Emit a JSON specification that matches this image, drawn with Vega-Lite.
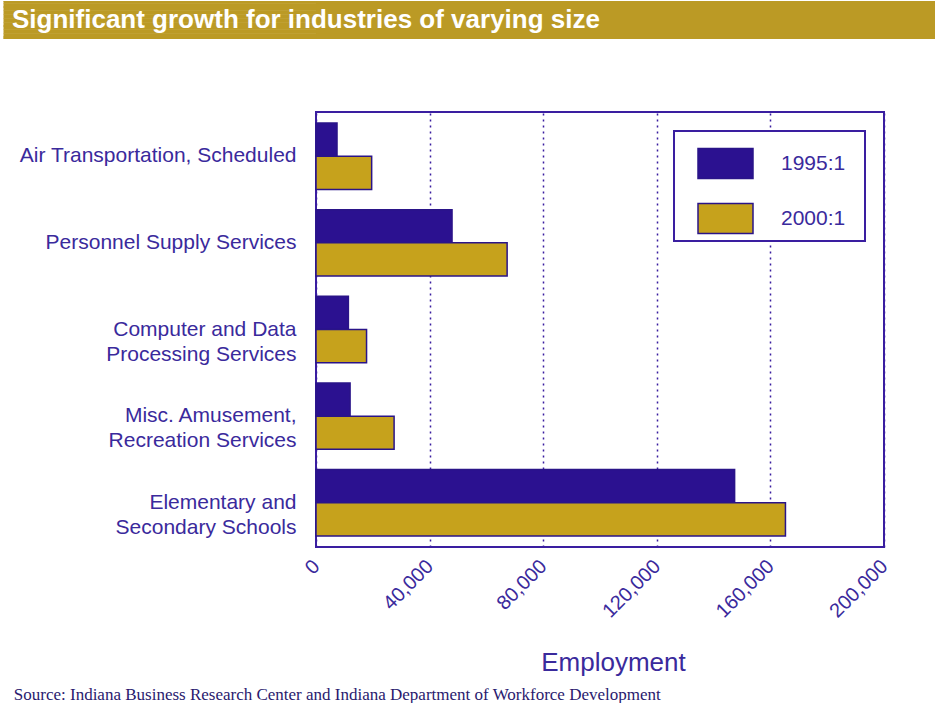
{
  "$schema": "https://vega.github.io/schema/vega-lite/v6.json",
  "background": "white",
  "padding": 0,
  "config": {"legend": {"strokeWidth": 2}},
  "title": {
    "text": "Source: Indiana Business Research Center and Indiana Department of Workforce Development",
    "orient": "bottom",
    "anchor": "start",
    "frame": "bounds",
    "dx": 13,
    "offset": 24,
    "baseline": "alphabetic",
    "font": "Liberation Serif",
    "fontSize": 17,
    "fontWeight": "normal",
    "color": "#2a1a6e"
  },
  "spacing": 72,
  "resolve": {"legend": {"color": "independent"}},
  "vconcat": [
    {
      "width": 621,
      "height": 38,
      "view": {"fill": "#bb9a25", "stroke": null},
      "title": {
        "text": "Significant growth for industries of varying size",
        "orient": "top",
        "anchor": "start",
        "frame": "group",
        "offset": -53,
        "dx": -304,
        "baseline": "alphabetic",
        "font": "Liberation Sans",
        "fontSize": 26,
        "fontWeight": "bold",
        "color": "white"
      },
      "data": {"values": [{"t": "", "v": 0.5}]},
      "mark": {"type": "text"},
      "encoding": {
        "text": {"field": "t"},
        "y": {
          "field": "v",
          "type": "quantitative",
          "scale": {"domain": [0, 1], "nice": false},
          "axis": {
            "title": null,
            "values": [0.99737, 0.96053, 0.90789, 0.80789, 0.70789, 0.60789, 0.50789, 0.40789, 0.30789, 0.20789, 0.10789, 0.06053, 0.02895],
            "labels": false,
            "domain": false,
            "grid": false,
            "ticks": true,
            "tickSize": 313,
            "tickWidth": {
              "condition": [
                {"test": "datum.value > 0.99 || datum.value < 0.05", "value": 1},
                {"test": "datum.value > 0.95 || datum.value < 0.07", "value": 2.4}
              ],
              "value": 4.4
            },
            "tickColor": "#bb9a25",
            "tickCap": "butt"
          }
        }
      }
    },
    {
      "width": 568,
      "height": 435,
      "view": {"stroke": "#3a1ea0", "strokeWidth": 2, "fill": "white"},
      "data": {
        "values": [
          {"industry": "Air Transportation, Scheduled", "year": "1995:1", "employment": 7400},
          {"industry": "Air Transportation, Scheduled", "year": "2000:1", "employment": 19600},
          {"industry": "Personnel Supply Services", "year": "1995:1", "employment": 47900},
          {"industry": "Personnel Supply Services", "year": "2000:1", "employment": 67300},
          {"industry": "Computer and Data|Processing Services", "year": "1995:1", "employment": 11400},
          {"industry": "Computer and Data|Processing Services", "year": "2000:1", "employment": 17800},
          {"industry": "Misc. Amusement,|Recreation Services", "year": "1995:1", "employment": 12000},
          {"industry": "Misc. Amusement,|Recreation Services", "year": "2000:1", "employment": 27500},
          {"industry": "Elementary and|Secondary Schools", "year": "1995:1", "employment": 147400},
          {"industry": "Elementary and|Secondary Schools", "year": "2000:1", "employment": 165300}
        ]
      },
      "mark": {"type": "bar", "stroke": "#2a1488", "strokeWidth": 1.5},
      "encoding": {
        "y": {
          "field": "industry",
          "type": "nominal",
          "sort": [
            "Air Transportation, Scheduled",
            "Personnel Supply Services",
            "Computer and Data|Processing Services",
            "Misc. Amusement,|Recreation Services",
            "Elementary and|Secondary Schools"
          ],
          "scale": {"paddingInner": 0.233, "paddingOuter": 0.127},
          "axis": {
            "title": null,
            "domain": false,
            "ticks": false,
            "labelPadding": 20,
            "minExtent": 314,
            "labelLimit": 400,
            "labelFont": "Liberation Sans",
            "labelFontSize": 21,
            "labelColor": "#3a2a9c",
            "labelLineHeight": 25,
            "labelExpr": "split(datum.value, '|')"
          }
        },
        "yOffset": {
          "field": "year",
          "type": "nominal",
          "sort": ["1995:1", "2000:1"],
          "scale": {"paddingInner": 0, "paddingOuter": 0}
        },
        "x": {
          "field": "employment",
          "type": "quantitative",
          "scale": {"domain": [0, 200000], "nice": false},
          "axis": {
            "title": "Employment",
            "values": [0, 40000, 80000, 120000, 160000, 200000],
            "format": ",d",
            "domain": false,
            "ticks": false,
            "grid": true,
            "gridColor": "#3a1ea0",
            "gridDash": [2, 4],
            "gridWidth": 1.5,
            "labelAngle": -45,
            "labelAlign": "right",
            "labelBaseline": "middle",
            "labelPadding": 16,
            "labelFont": "Liberation Sans",
            "labelFontSize": 20,
            "labelColor": "#3a2a9c",
            "titleFont": "Liberation Sans",
            "titleFontSize": 26,
            "titleFontWeight": "normal",
            "titleColor": "#3a2a9c",
            "titleX": 297,
            "titleY": 123,
            "titleBaseline": "alphabetic"
          }
        },
        "color": {
          "field": "year",
          "type": "nominal",
          "sort": ["1995:1", "2000:1"],
          "scale": {"domain": ["1995:1", "2000:1"], "range": ["#2b1190", "#c6a21c"]},
          "legend": {
            "title": ".",
            "titleOrient": "right",
            "titleColor": "white",
            "titleFontSize": 8,
            "titlePadding": 13,
            "orient": "top-right",
            "offset": 19,
            "padding": 4,
            "symbolType": "M-1,-0.545H1V0.545H-1Z",
            "symbolSize": 3025,
            "symbolOffset": 19,
            "symbolStrokeColor": "#2a1488",
            "symbolStrokeWidth": 1.5,
            "symbolOpacity": 1,
            "labelOffset": 27,
            "labelFont": "Liberation Sans",
            "labelFontSize": 21,
            "labelColor": "#3a2a9c",
            "rowPadding": 8,
            "strokeColor": "#3a1ea0",
            "fillColor": "white"
          }
        }
      }
    }
  ]
}
